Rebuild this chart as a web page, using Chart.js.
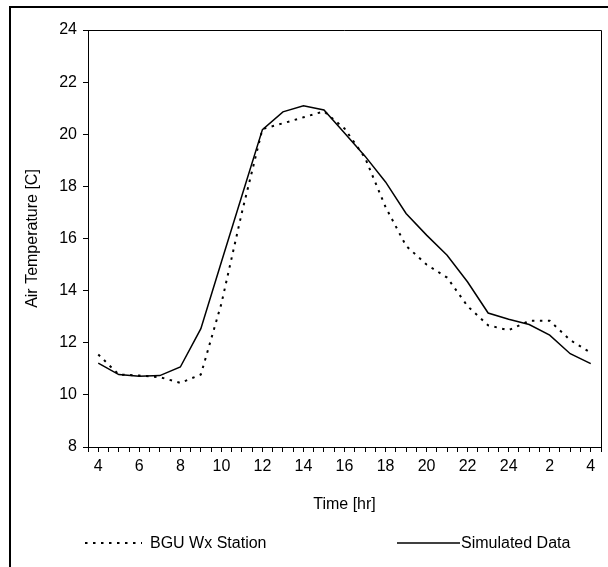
<!DOCTYPE html>
<html>
<head>
<meta charset="utf-8">
<script src="https://cdn.jsdelivr.net/npm/chart.js@4.4.1/dist/chart.umd.min.js"></script>
<style>
    html, body { margin: 0; padding: 0; background: #fff; }
    #wrap { position: relative; width: 608px; height: 567px; overflow: hidden; }
    #frame { position: absolute; left: 9px; top: 6px; width: 700px; height: 700px; border: 2px solid #000; box-sizing: border-box; }
    #chart { position: absolute; left: 0; top: 0; }
</style>
</head>
<body>
<div id="wrap">
    <div id="frame"></div>
    <canvas id="chart" width="608" height="567"></canvas>
</div>
<script>
// hour of day, 4 am through 4 am next day
const hourLabels = ["4", "5", "6", "7", "8", "9", "10", "11", "12", "13", "14", "15", "16",
    "17", "18", "19", "20", "21", "22", "23", "24", "1", "2", "3", "4"];

const bguStation = [11.55, 10.78, 10.74, 10.68, 10.46, 10.78, 13.5, 17.0, 20.2, 20.42, 20.65, 20.88, 20.22,
    19.1, 17.21, 15.72, 15.0, 14.5, 13.4, 12.67, 12.48, 12.84, 12.84, 12.1, 11.62];

const simulated = [11.22, 10.78, 10.71, 10.74, 11.07, 12.54, 15.1, 17.64, 20.18, 20.86, 21.09, 20.93, 20.05,
    19.16, 18.17, 16.96, 16.13, 15.36, 14.33, 13.14, 12.9, 12.7, 12.29, 11.58, 11.2];

const FONT = "'Liberation Sans', Arial, sans-serif";
const SIZE = 16;

const toPoints = (arr) => arr.map((v, i) => ({ x: i, y: v }));

// box round the plot area + the legend at the bottom
const framePlugin = {
    id: "frameAndLegend",
    afterDraw(chart) {
        const { ctx, chartArea: a } = chart;
        ctx.save();
        ctx.strokeStyle = "#000";
        ctx.lineWidth = 1;
        ctx.beginPath();
        ctx.moveTo(a.left, a.top + 0.5);
        ctx.lineTo(a.right + 0.5, a.top + 0.5);
        ctx.lineTo(a.right + 0.5, a.bottom);
        ctx.stroke();

        const items = [
            { ds: chart.data.datasets[0], x0: 85, x1: 142, tx: 150 },
            { ds: chart.data.datasets[1], x0: 397, x1: 460, tx: 461 },
        ];
        const y = 543;
        items.forEach((it) => {
            ctx.beginPath();
            ctx.lineWidth = it.ds.borderWidth;
            ctx.setLineDash(it.ds.borderDash || []);
            ctx.moveTo(it.x0, y);
            ctx.lineTo(it.x1, y);
            ctx.stroke();
            ctx.setLineDash([]);
            ctx.fillStyle = "#000";
            ctx.font = SIZE + "px " + FONT;
            ctx.textBaseline = "middle";
            ctx.fillText(it.ds.label, it.tx, y + 1);
        });
        ctx.restore();
    },
};

const chart = new Chart(document.getElementById("chart"), {
    type: "line",
    data: {
        datasets: [
            {
                label: "BGU Wx Station",
                data: toPoints(bguStation),
                borderColor: "#000",
                borderWidth: 2,
                borderDash: [2.5, 5.5],
                pointRadius: 0,
                tension: 0,
            },
            {
                label: "Simulated Data",
                data: toPoints(simulated),
                borderColor: "#000",
                borderWidth: 1.5,
                pointRadius: 0,
                tension: 0,
            },
        ],
    },
    options: {
        responsive: false,
        animation: false,
        layout: { padding: { left: 0, top: 30, right: 7, bottom: 50 } },
        plugins: { legend: { display: false }, tooltip: { enabled: false } },
        scales: {
            x: {
                type: "linear",
                min: -0.5,
                max: 24.5,
                afterFit: (s) => { s.height = 70; },
                ticks: {
                    stepSize: 0.5,
                    autoSkip: false,
                    maxRotation: 0,
                    padding: 5,
                    color: "#000",
                    font: { family: FONT, size: SIZE },
                    callback: (v) => (Number.isInteger(v) && v % 2 === 0 ? hourLabels[v] : ""),
                },
                grid: { drawOnChartArea: false, drawTicks: true, tickLength: 5, color: "#000" },
                border: { color: "#000", width: 1 },
                title: {
                    display: true,
                    text: "Time [hr]",
                    color: "#000",
                    font: { family: FONT, size: SIZE },
                    padding: { top: 0, bottom: 3 },
                },
            },
            y: {
                min: 8,
                max: 24,
                afterFit: (s) => { s.width = 88; },
                ticks: {
                    stepSize: 2,
                    padding: 6,
                    color: "#000",
                    font: { family: FONT, size: SIZE },
                },
                grid: { drawOnChartArea: false, drawTicks: true, tickLength: 5, color: "#000" },
                border: { color: "#000", width: 1 },
                title: {
                    display: true,
                    text: "Air Temperature [C]",
                    color: "#000",
                    font: { family: FONT, size: SIZE },
                    padding: { top: 23, bottom: 0 },
                },
            },
        },
    },
    plugins: [framePlugin],
});
</script>
</body>
</html>
